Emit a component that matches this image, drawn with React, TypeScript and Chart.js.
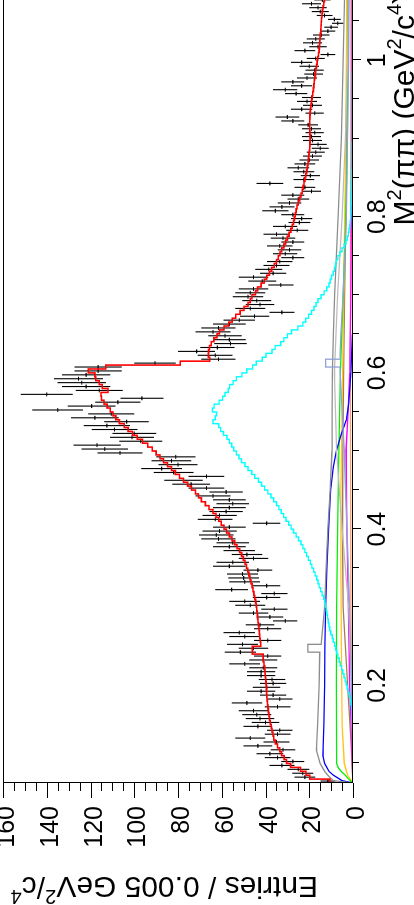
import React, { useEffect, useRef } from "react";
import { Chart, registerables } from "chart.js";

Chart.register(...registerables);

// ---------- binning ----------
const BIN_START = 0.075; // GeV^2/c^4
const BIN_WIDTH = 0.005;
const X_MIN = 0.075;
const X_MAX = 1.085;
const Y_MIN = 0;
const Y_MAX = 160;

// ---------- data: entries per 0.005 GeV^2/c^4 bin (from 0.075) ----------
const dataCounts = [
  11.5, 22, 23, 25, 32.5, 27.5, 34.5, 38, 32, 43.5,
  35, 47, 34.5, 33.5, 43.5, 40, 42.5, 44, 45.5, 34.5,
  48.5, 33.5, 36.5, 42, 39.5, 36.5, 37, 42, 42, 41,
  49.5, 41, 39, 51.5, 45.5, 50.5, 39, 49.5, 52, 39,
  42.5, 31, 38, 45.5, 36, 47, 49.5, 39.5, 36, 55.5,
  39.5, 49.5, 50, 50.5, 43.5, 56.5, 55, 45.5, 48.5, 52,
  56.5, 55, 61.5, 62.5, 61, 56.5, 39.5, 63, 61, 58,
  56.5, 55, 56.5, 64, 58, 67, 74, 77.5, 67, 82,
  87.5, 80, 83, 81, 106.5, 113.5, 117, 97, 101, 100,
  109, 112.5, 103.5, 118, 110.5, 135, 119.5, 107.5, 96.5, 140,
  116, 122, 124, 125.5, 122, 116.5, 116.5, 90.5, 61.5, 63,
  71.5, 62, 56, 56.5, 58.5, 64, 61.5, 56.5, 52, 45,
  32.5, 47, 42.5, 44, 48, 47, 45.5, 33, 41.5, 45.5,
  36.5, 38.5, 35, 33.5, 27.5, 31, 29, 33.5, 27.5, 32,
  35, 25.5, 31, 24.5, 23.5, 27.5, 35.5, 32.5, 29, 25,
  27.5, 19, 22, 38, 22.5, 19.5, 22.5, 25, 22, 20,
  18.5, 17, 15, 16, 18.5, 19, 17.5, 19, 20.5, 27.5,
  30, 17.5, 23.5, 18.5, 21, 19, 26, 31, 23.5, 27.5,
  21, 18, 17.5, 20, 23.5, 17, 11.5, 22, 16, 18.5,
  17, 14.5, 11.5, 10, 7, 8.5, 13, 15, 16, 19,
  14, 13,
];

// ---------- total fit (red histogram) ----------
const totalFit = [
  10.5, 19.8, 21.5, 24, 28.5, 30.4, 31.5, 32.7, 33.5, 34.5,
  35.5, 36.2, 36.6, 37, 37.4, 37.8, 38.2, 38.4, 38.7, 38.9,
  39.1, 39.3, 39.4, 39.5, 39.6, 39.7, 39.9, 40.1, 40.2, 40.4,
  40.7, 41, 41.1, 46, 46, 42.2, 42.4, 42.6, 42.8, 43,
  43.2, 43.4, 43.6, 43.8, 44, 44.2, 44.5, 44.9, 45.3, 45.7,
  46.1, 46.6, 47.1, 47.6, 48.1, 48.7, 49.4, 50.1, 50.9, 51.8,
  53, 54.1, 55.3, 56.5, 57.8, 59, 60.2, 61.4, 62.6, 64,
  65.8, 67.5, 69.3, 70.6, 72, 73.8, 75.6, 77.5, 79.3, 81.2,
  83, 84.8, 86.6, 88.2, 90, 91.8, 93.8, 96.2, 98.6, 100.8,
  102.8, 104.6, 106.8, 108.4, 109.7, 111, 112.4, 113.8, 115, 115.2,
  112, 114.6, 116, 117.6, 118, 121, 113, 79, 65.5, 66.2,
  66, 65.6, 64.8, 63.6, 62.2, 61, 59, 56.8, 55.2, 53.6,
  51.6, 49.8, 48, 47, 46.2, 44.6, 43.6, 42, 40.6, 39.4,
  38.2, 37.2, 36, 35, 34.2, 33.4, 32.6, 31.6, 30.8, 30,
  29.2, 28.4, 27.8, 27.2, 26.8, 26.4, 26, 25.6, 25, 24.4,
  23.8, 23.2, 22.8, 22.4, 22, 21.6, 21.2, 20.9, 20.6, 20.4,
  20.2, 20, 19.8, 19.7, 19.6, 19.6, 19.7, 19.8, 19.8, 19.8,
  19.7, 19.6, 19.4, 19.2, 19, 18.7, 18.4, 18.1, 17.9, 17.7,
  17.5, 17.2, 17, 16.7, 16.4, 16.1, 15.8, 15.5, 15.3, 15.2,
  15.1, 14.9, 14.7, 14.6, 14.5, 14.4, 14.2, 14, 13.7, 13.4,
  13, 12.8,
];

// ---------- broad resonance component (cyan histogram) ----------
const rhoComponent = [
  0, 0, 0, 0, 0, 0, 0, 0, 0, 0,
  0, 0, 0, 0, 0, 0.1, 0.1, 0.2, 0.3, 0.6,
  0.9, 1.2, 1.6, 2.1, 2.6, 3.1, 3.6, 4.1, 4.7, 5.2,
  5.8, 6.3, 6.9, 7.4, 7.9, 8.4, 9.0, 9.5, 10.2, 10.6,
  11.0, 11.3, 11.6, 11.9, 12.2, 12.5, 12.9, 13.4, 14.1, 14.8,
  15.5, 16.0, 16.6, 17.3, 18.0, 18.8, 19.5, 20.4, 21.2, 22.0,
  22.9, 23.8, 24.9, 26.0, 27.2, 28.3, 29.4, 30.6, 31.7, 32.8,
  33.9, 35.0, 36.2, 37.5, 38.9, 40.4, 41.8, 43.2, 44.9, 46.3,
  48.0, 49.4, 51.0, 52.1, 53.3, 54.5, 55.4, 56.5, 57.6, 59.2,
  60.5, 61.4, 64.0, 63.0, 62.4, 64.2, 63.5, 61.2, 59.6, 58.5,
  57.0, 56.4, 54.8, 53.3, 50.8, 48.6, 45.9, 44.2, 41.5, 39.8,
  37.0, 35.6, 33.0, 31.6, 30.0, 28.1, 25.2, 22.9, 21.6, 20.3,
  19.0, 17.8, 16.9, 16.0, 14.6, 13.2, 12.0, 11.0, 10.4, 9.8,
  9.0, 8.5, 8.0, 7.6, 6.9, 6.0, 5.0, 4.0, 3.2, 2.6,
  2.1, 1.8, 1.5, 1.3, 1.1, 1.0, 0.9, 0.9, 0.8, 0.8,
  0.8, 0.7, 0.7, 0.7, 0.6, 0.6, 0.6, 0.5, 0.5, 0.5,
  0.5, 0.5, 0.5, 0.5, 0.4, 0.4, 0.4, 0.4, 0.4, 0.4,
  0.4, 0.4, 0.4, 0.4, 0.4, 0.4, 0.4, 0.4, 0.4, 0.4,
  0.4, 0.4, 0.3, 0.3, 0.3, 0.3, 0.3, 0.3, 0.3, 0.3,
  0.3, 0.3, 0.3, 0.3, 0.3, 0.3, 0.3, 0.3, 0.3, 0.3,
  0.3, 0.3,
];

// ---------- small fit components (M^2, value) ----------
const grayM2 = [0.075, 0.078, 0.085, 0.09, 0.1, 0.117, 0.15, 0.2, 0.2425, 0.2425, 0.2525, 0.2525, 0.3, 0.35, 0.4, 0.45, 0.5, 0.55, 0.6, 0.65, 0.7, 0.8, 0.9, 1.0, 1.085];
const grayVal = [0, 9, 11.5, 13, 15, 16.7, 16.2, 15.5, 15.2, 20.6, 20.6, 14.6, 13, 12.3, 11.5, 10.5, 9.6, 9.5, 9.4, 9, 8.4, 6.8, 5.3, 4.5, 3.8];

const lightGrayM2 = [0.075, 0.2, 0.3, 0.4, 0.5, 0.6, 0.7, 0.8, 0.9, 1.0, 1.085];
const lightGrayVal = [0, 0.5, 2, 5, 7.5, 8.5, 7, 5, 3.5, 2.5, 2];

const blueM2 = [0.075, 0.078, 0.085, 0.09, 0.1, 0.11, 0.15, 0.2, 0.25, 0.3, 0.35, 0.4, 0.45, 0.48, 0.5, 0.52, 0.54, 0.56, 0.6, 0.65, 0.7, 1.085];
const blueVal = [0, 5, 9, 11, 13, 13.8, 13.3, 13, 12.9, 12.5, 12, 11.2, 10.2, 9, 7.6, 5.5, 3, 2, 1, 0.3, 0.1, 0];

const greenM2 = [0.075, 0.08, 0.085, 0.09, 0.095, 0.1, 0.2, 0.3, 0.4, 0.5, 0.6, 0.7, 0.8, 0.9, 1.0, 1.085];
const greenVal = [0, 2, 3.5, 5.5, 6.8, 7.5, 7.6, 7.5, 7, 6.5, 5.8, 4.5, 3.3, 2.6, 2.3, 2];

const yellowM2 = [0.075, 0.085, 0.1, 0.15, 0.25, 0.35, 0.45, 0.55, 0.65, 0.75, 0.85, 1.0, 1.085];
const yellowVal = [0, 2.5, 4, 5, 5.3, 5.5, 5.5, 5, 4.5, 4, 3.5, 3, 2.8];

const magentaM2 = [0.075, 0.12, 0.2, 0.3, 0.4, 0.5, 0.55, 0.6, 0.7, 0.8, 1.0, 1.085];
const magentaVal = [0, 0.5, 1.5, 2.1, 2.8, 3.2, 2.2, 1.5, 1, 0.7, 0.5, 0.5];

const brownM2 = [0.075, 0.13, 0.2, 0.3, 0.4, 0.5, 0.6, 0.7, 0.8, 0.9, 1.0, 1.085];
const brownVal = [0, 1, 2.5, 4.5, 4.8, 4.6, 4.3, 3.8, 3.3, 3, 2.8, 2.6];

const steelM2 = [0.075, 0.1, 0.3, 0.5, 0.55, 0.6075, 0.6075, 0.6175, 0.6175, 0.65, 0.7, 0.8, 1.0, 1.085];
const steelVal = [0, 0, 1.5, 4, 5, 6, 12.5, 12.5, 6, 5.5, 4.5, 3, 2, 1.8];

const orangeM2 = [0.075, 0.1, 0.3, 0.6, 1.0, 1.085];
const orangeVal = [0, 0.3, 1, 1.2, 1, 1];

// ---------- axes ----------
const yTickValues = [0, 20, 40, 60, 80, 100, 120, 140, 160];
const yTickLabels = ["0", "20", "40", "60", "80", "100", "120", "140", "160"];
const xTickValues = [0.2, 0.4, 0.6, 0.8, 1.0];
const xTickLabels = ["0.2", "0.4", "0.6", "0.8", "1"];
const Y_MINOR_STEP = 5;
const X_MINOR_STEP = 0.05;

const FONT = '"Liberation Sans", Arial, Helvetica, sans-serif';

type Part = { t: string; sup?: boolean };
const yTitleParts: Part[] = [
  { t: "Entries / 0.005 GeV" },
  { t: "2", sup: true },
  { t: "/c" },
  { t: "4", sup: true },
];
const xTitleParts: Part[] = [
  { t: "M" },
  { t: "2", sup: true },
  { t: "(\u03C0\u03C0) (GeV" },
  { t: "2", sup: true },
  { t: "/c" },
  { t: "4", sup: true },
  { t: ")" },
];

const CANVAS_W = 912;
const CANVAS_H = 414;

function setPartFont(ctx: CanvasRenderingContext2D, p: Part, size: number) {
  ctx.font = `${p.sup ? Math.round(size * 0.65) : size}px ${FONT}`;
}
function measureParts(ctx: CanvasRenderingContext2D, parts: Part[], size: number) {
  let w = 0;
  for (const p of parts) {
    setPartFont(ctx, p, size);
    w += ctx.measureText(p.t).width;
  }
  return w;
}
function drawParts(ctx: CanvasRenderingContext2D, parts: Part[], x: number, y: number, size: number) {
  let cx = x;
  ctx.textAlign = "left";
  ctx.textBaseline = "alphabetic";
  for (const p of parts) {
    setPartFont(ctx, p, size);
    ctx.fillText(p.t, cx, p.sup ? y - size * 0.42 : y);
    cx += ctx.measureText(p.t).width;
  }
}

const errorBarPlugin = {
  id: "errorBars",
  beforeDatasetsDraw(chart: any) {
    const { ctx, scales } = chart;
    const idx = chart.data.datasets.findIndex((d: any) => d.label === "Data");
    const meta = chart.getDatasetMeta(idx);
    ctx.save();
    ctx.beginPath();
    ctx.rect(chart.chartArea.left, chart.chartArea.top, chart.chartArea.right - chart.chartArea.left, chart.chartArea.bottom - chart.chartArea.top);
    ctx.clip();
    ctx.strokeStyle = "#000";
    ctx.lineWidth = 1.1;
    meta.data.forEach((pt: any, k: number) => {
      const v = dataCounts[k];
      const err = Math.sqrt(v);
      const lo = BIN_START + k * BIN_WIDTH;
      const xl = scales.x.getPixelForValue(lo);
      const xh = scales.x.getPixelForValue(lo + BIN_WIDTH);
      const yt = scales.y.getPixelForValue(v + err);
      const yb = scales.y.getPixelForValue(Math.max(0, v - err));
      ctx.beginPath();
      ctx.moveTo(pt.x, yt);
      ctx.lineTo(pt.x, yb);
      ctx.moveTo(xl, pt.y);
      ctx.lineTo(xh, pt.y);
      ctx.stroke();
    });
    ctx.restore();
  },
};

const axesPlugin = {
  id: "rootAxes",
  afterDraw(chart: any) {
    const { ctx, chartArea: a, scales } = chart;
    const xs = scales.x;
    const ys = scales.y;
    ctx.save();
    ctx.strokeStyle = "#000";
    ctx.fillStyle = "#000";
    ctx.lineWidth = 1;
    // frame
    ctx.strokeRect(a.left + 0.5, a.top + 0.5, a.right - a.left - 1, a.bottom - a.top - 1);

    // y ticks (outward, left)
    ctx.beginPath();
    for (let v = Y_MIN; v <= Y_MAX + 1e-9; v += Y_MINOR_STEP) {
      const py = Math.round(ys.getPixelForValue(v)) + 0.5;
      const major = yTickValues.includes(v);
      ctx.moveTo(a.left, py);
      ctx.lineTo(a.left - (major ? 15 : 8), py);
    }
    ctx.stroke();
    // x ticks (outward, below)
    ctx.beginPath();
    for (let i = 1; i * X_MINOR_STEP <= X_MAX; i++) {
      const v = i * X_MINOR_STEP;
      if (v < X_MIN) continue;
      const px = Math.round(xs.getPixelForValue(v)) + 0.5;
      const major = i % 4 === 0;
      ctx.moveTo(px, a.bottom);
      ctx.lineTo(px, a.bottom + (major ? 8 : 6));
    }
    ctx.stroke();

    // y tick labels
    ctx.font = `25px ${FONT}`;
    ctx.textAlign = "right";
    ctx.textBaseline = "alphabetic";
    yTickValues.forEach((v, i) => {
      ctx.fillText(yTickLabels[i], a.left - 23, ys.getPixelForValue(v) + 11);
    });
    // x tick labels
    ctx.textAlign = "center";
    xTickValues.forEach((v, i) => {
      ctx.fillText(xTickLabels[i], xs.getPixelForValue(v), a.bottom + 32);
    });

    // y title (rotated, reads bottom to top)
    ctx.save();
    ctx.translate(28, 318);
    ctx.rotate(-Math.PI / 2);
    drawParts(ctx, yTitleParts, 0, 0, 30);
    ctx.restore();

    // x title, right-aligned at the axis end
    const w = measureParts(ctx, xTitleParts, 30);
    drawParts(ctx, xTitleParts, a.right - w, 414, 30);
    ctx.restore();
  },
};

function hist(values: number[]) {
  const pts: { x: number; y: number }[] = [{ x: BIN_START, y: 0 }];
  values.forEach((v, k) => {
    const lo = BIN_START + k * BIN_WIDTH;
    pts.push({ x: lo, y: v }, { x: lo + BIN_WIDTH, y: v });
  });
  return pts;
}
function pairs(xv: number[], yv: number[]) {
  return xv.map((x, i) => ({ x, y: yv[i] }));
}
function lineDs(label: string, data: any[], color: string, width: number) {
  return { label, data, borderColor: color, backgroundColor: color, borderWidth: width, pointRadius: 0, fill: false, tension: 0 };
}

export default function App() {
  const ref = useRef<HTMLCanvasElement>(null);
  useEffect(() => {
    const canvas = ref.current!;
    const chart = new Chart(canvas, {
      type: "line",
      data: {
        datasets: [
          lineDs("Total fit", hist(totalFit), "#ff0000", 1.6),
          lineDs("Broad resonance", hist(rhoComponent), "#00ffff", 1.4),
          lineDs("Narrow resonance", pairs(steelM2, steelVal), "#8ea2d8", 1.3),
          lineDs("Component A", pairs(grayM2, grayVal), "#8c8c8c", 1.3),
          lineDs("Component B", pairs(lightGrayM2, lightGrayVal), "#bcbcbc", 1.2),
          lineDs("Component C", pairs(blueM2, blueVal), "#0000ff", 1.3),
          lineDs("Component D", pairs(greenM2, greenVal), "#00ee00", 1.3),
          lineDs("Component E", pairs(yellowM2, yellowVal), "#ffc41a", 1.3),
          lineDs("Component F", pairs(magentaM2, magentaVal), "#ff00ff", 1.3),
          lineDs("Component G", pairs(brownM2, brownVal), "#a57b52", 1.3),
          lineDs("Component H", pairs(orangeM2, orangeVal), "#ff9a66", 1.2),
          {
            label: "Data",
            data: dataCounts.map((v, k) => ({ x: BIN_START + (k + 0.5) * BIN_WIDTH, y: v })),
            showLine: false,
            pointRadius: 0,
            borderColor: "#000",
            backgroundColor: "#000",
          },
        ] as any,
      },
      options: {
        animation: false,
        responsive: false,
        devicePixelRatio: 1,
        events: [],
        layout: { padding: { left: 122, right: 1, top: 3, bottom: 61 } },
        scales: {
          x: { type: "linear", min: X_MIN, max: X_MAX, display: false },
          y: { type: "linear", min: Y_MIN, max: Y_MAX, display: false },
        },
        plugins: { legend: { display: false }, tooltip: { enabled: false } },
      } as any,
      plugins: [errorBarPlugin, axesPlugin],
    });
    return () => chart.destroy();
  }, []);

  return (
    <div style={{ position: "fixed", left: 0, top: 0, width: 414, height: 905, overflow: "hidden", background: "#fff" }}>
      <div
        style={{
          position: "absolute",
          left: 0,
          top: 0,
          width: CANVAS_W,
          height: CANVAS_H,
          transformOrigin: "0 0",
          transform: "translate(0px, 905px) rotate(-90deg)",
        }}
      >
        <canvas ref={ref} width={CANVAS_W} height={CANVAS_H} />
      </div>
    </div>
  );
}
